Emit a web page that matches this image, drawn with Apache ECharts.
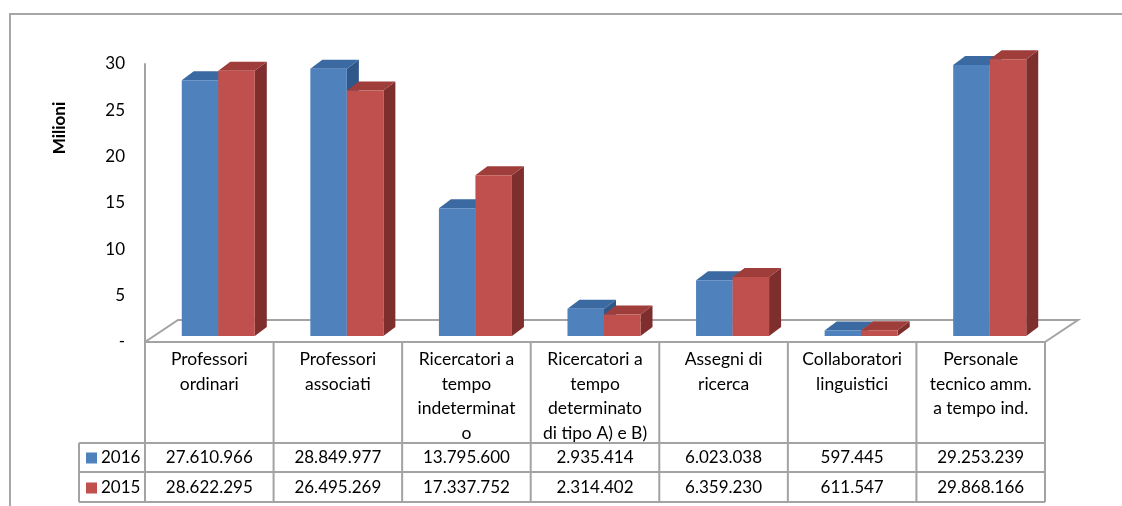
<!DOCTYPE html>
<html>
<head>
<meta charset="utf-8">
<script src="https://cdn.jsdelivr.net/npm/echarts@6/dist/echarts.min.js"></script>
<style>
  html, body { margin: 0; padding: 0; background: #ffffff; }
  #chart { width: 1122px; height: 506px; }
</style>
</head>
<body>
<div id="chart"></div>
<script>
// Spesa per il personale (euro), per categoria e anno
const categories = [
  'Professori\nordinari',
  'Professori\nassociati',
  'Ricercatori a\ntempo\nindeterminat\no',
  'Ricercatori a\ntempo\ndeterminato\ndi tipo A) e B)',
  'Assegni di\nricerca',
  'Collaboratori\nlinguistici',
  'Personale\ntecnico amm.\na tempo ind.'
];
const years = ['2016', '2015'];
const values2016 = [27610966, 28849977, 13795600, 2935414, 6023038, 597445, 29253239];
const values2015 = [28622295, 26495269, 17337752, 2314402, 6359230, 611547, 29868166];
const axisLabel = 'Milioni';

const FONT = 'Lato, "Open Sans", sans-serif';
const GRID_LINE = '#a3a3a3';

// palette: front, top and side faces of each prism
const faces = [
  { front: '#4f81bd', top: '#3b69a1', side: '#2f578a' },
  { front: '#c0504d', top: '#9f3d3b', side: '#7e2f2d' }
];

// depth of the floor and of each prism
const FLOOR_DX = 33, FLOOR_DY = -22;
const FRONT_DX = 9, FRONT_DY = -6;
const BAR_DX = 12, BAR_DY = -9;

function fmtIt(n) {
  return String(n).replace(/\B(?=(\d{3})+(?!\d))/g, '.');
}

function barRenderer(k) {
  const c = faces[k];
  return function (params, api) {
    const i = api.value(0);
    const v = api.value(1);
    const base = api.coord([i, 0]);
    const top = api.coord([i, v]);
    const band = api.size([1, 0])[0];
    const bw = band * 0.284;
    const x0 = base[0] - bw + FRONT_DX + k * bw;
    const yb = base[1] + FRONT_DY;
    const yt = top[1] + FRONT_DY;
    const x1 = x0 + bw;
    return {
      type: 'group',
      children: [
        { type: 'polygon', shape: { points: [[x1, yt], [x1 + BAR_DX, yt + BAR_DY], [x1 + BAR_DX, yb + BAR_DY], [x1, yb]] },
          style: { fill: c.side } },
        { type: 'polygon', shape: { points: [[x0, yt], [x1, yt], [x1 + BAR_DX, yt + BAR_DY], [x0 + BAR_DX, yt + BAR_DY]] },
          style: { fill: c.top } },
        { type: 'rect', shape: { x: x0, y: yt, width: bw, height: yb - yt },
          style: { fill: c.front } }
      ]
    };
  };
}

function floorRenderer(params, api) {
  const cs = params.coordSys;
  const l = cs.x, r = cs.x + cs.width, y = cs.y + cs.height;
  return {
    type: 'polyline',
    shape: { points: [[l, y], [l + FLOOR_DX, y + FLOOR_DY], [r + FLOOR_DX, y + FLOOR_DY], [r, y]] },
    style: { stroke: GRID_LINE, lineWidth: 2, fill: null }
  };
}

// data table under the plot: category headers, one row per year
function tableRenderer(params, api) {
  const cs = params.coordSys;
  const l = cs.x, r = cs.x + cs.width, y0 = cs.y + cs.height;
  const yHead = y0 + 101, yRow1 = y0 + 130, yRow2 = y0 + 160;
  const legendL = 79;
  const band = api.size([1, 0])[0];
  const children = [];
  const line = (x1, y1, x2, y2) => children.push({
    type: 'line', shape: { x1, y1, x2, y2 }, style: { stroke: GRID_LINE, lineWidth: 2 }
  });
  line(l, y0, r, y0);
  line(legendL, yHead, r, yHead);
  line(legendL, yRow1, r, yRow1);
  line(legendL, yRow2, r, yRow2);
  line(legendL, yHead, legendL, yRow2);
  line(l, y0, l, yRow2);
  const rows = [values2016, values2015];
  categories.forEach((name, i) => {
    const cx = api.coord([i, 0])[0];
    line(cx + band / 2, y0, cx + band / 2, yRow2);
    children.push({
      type: 'text',
      style: { text: name, x: cx, y: y0 + 5.5, align: 'center', verticalAlign: 'top',
               font: '17.5px ' + FONT, lineHeight: 24.5, fill: '#000' }
    });
    rows.forEach((vals, k) => {
      children.push({
        type: 'text',
        style: { text: fmtIt(vals[i]), x: cx, y: yHead + 15 + k * 30, align: 'center', verticalAlign: 'middle',
                 font: '17px ' + FONT, fill: '#000' }
      });
    });
  });
  years.forEach((yr, k) => {
    const cy = yHead + 15 + k * 30;
    children.push({ type: 'rect', shape: { x: 86, y: cy - 5.5, width: 11, height: 11 },
                    style: { fill: faces[k].front } });
    children.push({ type: 'text',
                    style: { text: yr, x: 101, y: cy, align: 'left', verticalAlign: 'middle',
                             font: '17px ' + FONT, fill: '#000' } });
  });
  return { type: 'group', children };
}

const chart = echarts.init(document.getElementById('chart'), null, { renderer: 'canvas' });

chart.setOption({
  animation: false,
  backgroundColor: '#ffffff',
  grid: { left: 145, right: 77, top: 64, bottom: 164 },
  graphic: [
    { type: 'rect', shape: { x: 10, y: 14, width: 1200, height: 600 },
      style: { fill: null, stroke: '#a6a6a6', lineWidth: 2 }, silent: true, z: -10 },
    { type: 'text', x: 60, y: 128, rotation: Math.PI / 2,
      style: { text: axisLabel, font: 'bold 17px ' + FONT, fill: '#000',
               align: 'center', verticalAlign: 'middle' } }
  ],
  xAxis: {
    type: 'category',
    data: categories,
    axisLine: { show: false },
    axisTick: { show: false },
    axisLabel: { show: false },
    splitLine: { show: false }
  },
  yAxis: {
    type: 'value',
    min: 0, max: 30, interval: 5,
    axisLine: { show: true, lineStyle: { color: GRID_LINE, width: 2 } },
    axisTick: { show: false },
    splitLine: { show: false },
    axisLabel: {
      margin: 20,
      color: '#000',
      fontFamily: FONT,
      fontSize: 17,
      formatter: v => (v === 0 ? '-' : String(v))
    }
  },
  series: [
    { type: 'custom', name: 'floor', renderItem: floorRenderer, data: [[0, 0]], z: 1, silent: true },
    { type: 'custom', name: years[0], renderItem: barRenderer(0),
      data: values2016.map((v, i) => [i, v / 1e6]), z: 2 },
    { type: 'custom', name: years[1], renderItem: barRenderer(1),
      data: values2015.map((v, i) => [i, v / 1e6]), z: 3 },
    { type: 'custom', name: 'table', renderItem: tableRenderer, data: [[0, 0]], z: 4, silent: true }
  ]
});
</script>
</body>
</html>
